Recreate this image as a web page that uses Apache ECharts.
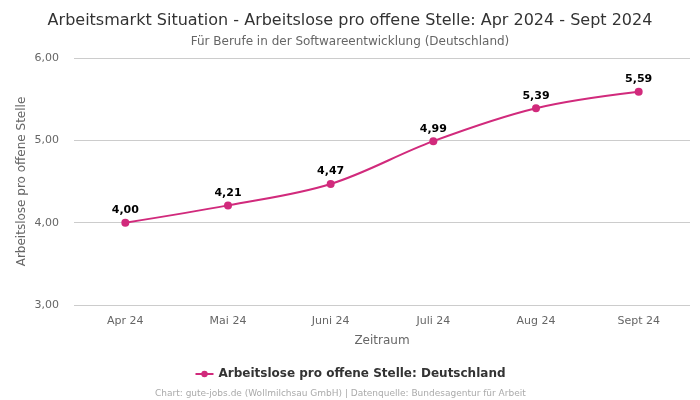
<!DOCTYPE html>
<html><head><meta charset="utf-8">
<script src="https://cdn.jsdelivr.net/npm/echarts@6/dist/echarts.min.js"></script>
<style>html,body{margin:0;padding:0;background:#fff}#c{width:700px;height:400px}</style>
</head><body><div id="c"></div>
<script>
const categories = ['Apr 24','Mai 24','Juni 24','Juli 24','Aug 24','Sept 24'];
const values = [4.00, 4.21, 4.47, 4.99, 5.39, 5.59];
const seriesName = 'Arbeitslose pro offene Stelle: Deutschland';
const color = '#d12a7c';
const fmt = v => Number(v).toFixed(2).replace('.', ',');
const F = 'DejaVu Sans';
const chart = echarts.init(document.getElementById('c'), null, {renderer:'canvas'});
chart.setOption({
  animation:false,
  title:[
    {text:'Arbeitsmarkt Situation - Arbeitslose pro offene Stelle: Apr 2024 - Sept 2024', left:'center', top:8,
     textStyle:{fontFamily:F, fontSize:16, fontWeight:'normal', color:'#333'}},
    {text:'Für Berufe in der Softwareentwicklung (Deutschland)', left:'center', top:31,
     textStyle:{fontFamily:F, fontSize:12, fontWeight:'normal', color:'#666'}},
    {text:'Chart: gute-jobs.de (Wollmilchsau GmbH) | Datenquelle: Bundesagentur für Arbeit', left:150, top:384,
     textStyle:{fontFamily:F, fontSize:9, fontWeight:'normal', color:'#aaa'}}
  ],
  legend:{data:[seriesName], bottom:15, left:'center', itemWidth:18, itemHeight:8,
    textStyle:{fontFamily:F, fontSize:12, fontWeight:'bold', color:'#333'}},
  grid:{left:74, right:10, top:58, bottom:95},
  xAxis:{type:'category', data:categories, boundaryGap:true,
    name:'Zeitraum', nameLocation:'middle', nameGap:30,
    nameTextStyle:{fontFamily:F, fontSize:12, color:'#666'},
    axisLine:{show:false}, axisTick:{show:false},
    axisLabel:{fontFamily:F, fontSize:11, color:'#666', margin:11}},
  yAxis:{type:'value', min:3, max:6, interval:1,
    name:'Arbeitslose pro offene Stelle', nameLocation:'middle', nameGap:46, nameMoveOverlap:false,
    nameTextStyle:{fontFamily:F, fontSize:12, color:'#666'},
    axisLine:{show:false}, axisTick:{show:false},
    axisLabel:{fontFamily:F, fontSize:11, color:'#666', margin:15, formatter:fmt},
    splitLine:{lineStyle:{color:'#ccc', width:1}}},
  series:[{name:seriesName, type:'line', data:values, smooth:0.35,
    symbol:'circle', symbolSize:8, itemStyle:{color:color},
    lineStyle:{color:color, width:2},
    label:{show:true, position:'top', distance:3, formatter:p=>fmt(p.value),
      fontFamily:F, fontSize:11, fontWeight:'bold', color:'#000'}}]
});
</script></body></html>
